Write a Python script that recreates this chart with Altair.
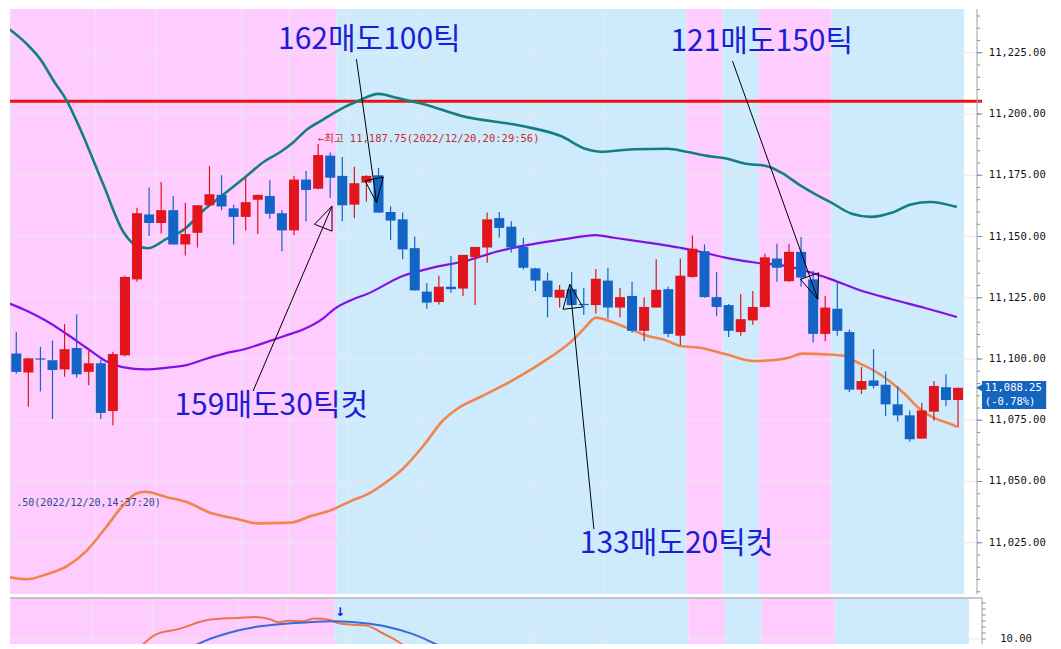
import altair as alt
import pandas as pd

# ---------------- data ----------------
candle_idx = list(range(-1, 79))
opens = [11109.75, 11102.25, 11094.5, 11100.25, 11099.5, 11095.75, 11104.5, 11094.75, 11098.25, 11078.75,
         11101.5, 11132.5, 11159.0, 11155.5, 11160.75, 11146.75, 11151.5, 11162.75, 11167.0, 11161.5,
         11158.0, 11165.0, 11166.5, 11159.5, 11152.5, 11173.25, 11169.5, 11183.0, 11174.75, 11163.0,
         11172.0, 11175.0, 11160.0, 11157.0, 11145.25, 11127.5, 11123.25, 11129.5, 11128.75, 11141.5,
         11145.5, 11157.5, 11154.0, 11145.75, 11137.0, 11132.0, 11125.0, 11128.5, 11122.5, 11122.0,
         11132.0, 11121.0, 11125.75, 11111.5, 11121.0, 11128.5, 11109.5, 11133.5, 11144.0, 11125.25,
         11122.0, 11111.0, 11115.75, 11121.25, 11141.0, 11131.75, 11143.75, 11132.5, 11110.25, 11120.5,
         11111.0, 11087.5, 11091.25, 11089.5, 11081.5, 11077.0, 11067.5, 11078.5, 11088.5, 11083.25]
highs = [11113.5, 11111.0, 11100.5, 11105.0, 11107.5, 11114.25, 11118.25, 11103.5, 11099.75, 11103.0,
         11134.0, 11161.75, 11170.0, 11172.25, 11166.5, 11163.75, 11162.75, 11178.75, 11175.0, 11163.0,
         11174.0, 11167.0, 11173.0, 11160.75, 11174.75, 11176.75, 11187.75, 11184.25, 11182.5, 11178.5,
         11175.0, 11178.0, 11162.25, 11159.75, 11150.0, 11131.0, 11134.0, 11142.0, 11142.5, 11145.75,
         11159.75, 11160.0, 11156.25, 11149.5, 11137.25, 11135.25, 11130.25, 11135.5, 11129.0, 11136.75,
         11137.25, 11129.0, 11131.5, 11125.25, 11140.75, 11129.5, 11141.0, 11150.5, 11146.75, 11135.5,
         11122.5, 11126.5, 11127.75, 11143.0, 11147.0, 11147.0, 11149.75, 11136.0, 11125.75, 11131.0,
         11112.0, 11096.75, 11104.0, 11095.0, 11089.0, 11079.0, 11082.0, 11091.0, 11093.75, 11088.25]
lows = [11099.25, 11094.0, 11080.5, 11086.75, 11075.5, 11092.75, 11092.5, 11089.25, 11075.5, 11073.0,
        11101.0, 11131.5, 11150.25, 11151.25, 11146.75, 11142.25, 11145.5, 11162.5, 11160.75, 11146.75,
        11152.5, 11151.0, 11157.25, 11144.0, 11150.5, 11156.25, 11169.25, 11165.75, 11156.25, 11157.5,
        11164.25, 11159.75, 11148.5, 11140.75, 11128.0, 11120.5, 11122.25, 11127.0, 11125.75, 11122.0,
        11139.25, 11149.5, 11143.5, 11136.5, 11127.75, 11117.0, 11121.0, 11122.0, 11118.0, 11118.5,
        11116.5, 11117.0, 11110.75, 11107.25, 11121.0, 11109.0, 11105.75, 11133.25, 11125.0, 11117.5,
        11109.0, 11109.5, 11114.0, 11121.0, 11131.5, 11131.5, 11129.5, 11106.75, 11107.25, 11109.5,
        11086.5, 11085.75, 11088.0, 11076.75, 11074.5, 11066.25, 11067.5, 11074.75, 11080.75, 11072.0]
closes = [11102.0, 11094.75, 11100.25, 11099.75, 11095.5, 11104.0, 11093.75, 11098.25, 11078.0, 11102.0,
          11133.5, 11159.5, 11155.5, 11160.75, 11146.75, 11151.0, 11162.75, 11167.25, 11162.25, 11158.0,
          11164.0, 11167.0, 11159.25, 11152.5, 11173.25, 11169.0, 11183.25, 11174.0, 11162.75, 11171.75,
          11174.75, 11159.75, 11156.5, 11144.75, 11128.0, 11123.0, 11129.5, 11128.5, 11142.5, 11145.75,
          11157.0, 11153.5, 11145.5, 11137.25, 11132.0, 11125.25, 11128.25, 11122.0, 11122.0, 11132.75,
          11121.0, 11125.25, 11111.5, 11121.25, 11128.25, 11110.25, 11134.0, 11145.0, 11125.25, 11121.25,
          11111.5, 11116.25, 11121.25, 11141.5, 11137.25, 11143.75, 11133.25, 11110.25, 11121.0, 11111.5,
          11087.5, 11091.0, 11089.0, 11081.5, 11077.0, 11067.25, 11079.0, 11089.0, 11083.25, 11088.25]

upper_i = [-1.0, 0.9, 2.0, 3.1, 4.2, 5.3, 7.2, 8.9, 10.0, 10.9, 12.4, 14.0, 15.6, 17.0, 18.9, 20.6, 21.9,
           23.0, 24.1, 25.2, 27.1, 28.3, 30.0, 31.6, 33.7, 36.9, 41.9, 45.1, 47.2, 48.4, 51.1, 53.9, 55.5,
           57.2, 58.8, 60.4, 62.1, 63.4, 64.8, 66.2, 67.5, 69.2, 70.8, 72.5, 74.1, 75.7, 77.9]
upper_v = [11236.2, 11228.4, 11222.3, 11213.5, 11205.3, 11193.8, 11171.3, 11151.6, 11146.1, 11145.2,
           11148.9, 11153.3, 11161.1, 11166.5, 11174.0, 11180.8, 11184.6, 11188.7, 11193.8, 11197.1,
           11202.6, 11205.3, 11208.2, 11206.5, 11204.1, 11199.2, 11195.1, 11191.0, 11185.7, 11184.6,
           11185.6, 11185.8, 11184.6, 11182.9, 11181.8, 11179.7, 11178.8, 11176.0, 11171.3, 11167.2,
           11163.8, 11159.3, 11158.0, 11159.7, 11163.1, 11164.1, 11162.0]

mid_i = [-1.0, 0.9, 2.5, 4.2, 5.8, 7.4, 8.8, 10.7, 12.4, 14.0, 15.6, 17.3, 18.9, 20.6, 22.2, 23.8, 25.5,
         26.3, 27.9, 29.0, 32.0, 34.5, 37.2, 40.0, 42.7, 45.4, 48.0, 49.5, 52.3, 53.3, 55.0, 56.1, 58.8,
         61.3, 63.7, 65.4, 67.5, 69.7, 72.5, 75.2, 77.9]
mid_v = [11123.5, 11119.6, 11115.5, 11110.1, 11104.6, 11099.2, 11096.7, 11095.8, 11096.4, 11097.4,
         11099.9, 11102.3, 11104.0, 11106.7, 11109.4, 11112.1, 11116.9, 11120.3, 11124.4, 11126.4,
         11133.9, 11137.3, 11140.0, 11144.1, 11146.8, 11148.9, 11150.6, 11149.5, 11147.5, 11146.8,
         11145.4, 11144.4, 11141.3, 11139.3, 11138.0, 11135.9, 11132.5, 11128.4, 11124.4, 11120.9, 11117.1]

low_i = [-1.0, 0.9, 2.5, 4.2, 5.8, 7.4, 8.8, 9.9, 10.7, 12.4, 14.0, 16.2, 18.4, 20.0, 22.7, 24.4, 26.0,
         27.7, 29.3, 30.4, 32.0, 33.7, 35.3, 36.5, 38.6, 41.0, 43.5, 46.0, 47.1, 48.0, 49.5, 50.9, 52.3,
         53.6, 55.0, 56.6, 58.8, 61.0, 62.6, 64.0, 65.1, 67.0, 68.6, 69.7, 71.1, 72.5, 73.6, 74.7, 76.0,
         77.1, 77.9]
low_v = [11011.3, 11010.1, 11012.1, 11015.5, 11021.6, 11031.1, 11040.0, 11045.0, 11045.8, 11043.7,
         11041.8, 11037.0, 11034.6, 11032.9, 11033.2, 11035.9, 11038.2, 11042.0, 11045.4, 11048.9,
         11055.1, 11064.5, 11074.7, 11079.6, 11084.9, 11091.0, 11098.4, 11107.3, 11112.8, 11116.9,
         11114.8, 11112.1, 11109.4, 11108.0, 11105.3, 11104.6, 11101.9, 11099.2, 11099.5, 11100.5,
         11102.2, 11101.9, 11101.2, 11098.5, 11095.1, 11090.3, 11085.6, 11080.1, 11076.0, 11074.0, 11072.4]

# lower indicator panel
ind_o_i = [10.2, 11.8, 13.7, 16.2, 18.4, 20.0, 21.1, 21.9, 22.7, 23.8, 24.9, 26.0, 26.8, 27.7, 29.0, 30.4, 31.8, 32.7]
ind_o_v = [5.7, 11.4, 13.3, 16.4, 17.0, 17.3, 16.7, 15.6, 16.1, 15.9, 16.8, 16.4, 15.3, 14.8, 14.6, 12.0, 8.9, 5.9]
ind_b_i = [14.1, 15.6, 17.8, 20.0, 22.2, 24.4, 26.6, 28.8, 30.7, 32.8, 34.5, 36.0]
ind_b_v = [5.7, 8.9, 12.0, 14.0, 15.0, 15.6, 15.9, 15.3, 14.2, 11.8, 8.9, 5.9]

# background session bands
band_start = [-1.5, 26.5, 55.5, 58.5, 61.5, 67.5]
band_end = [26.5, 55.5, 58.5, 61.5, 67.5, 78.5]
band_kind = ["pink", "blue", "pink", "blue", "pink", "blue"]

time_grid = [-0.35, 6.58, 11.61, 18.64, 22.6, 27.43, 33.56, 42.6, 48.64]
price_ticks = [11025, 11050, 11075, 11100, 11125, 11150, 11175, 11200, 11225]
price_tick_labels = ["11,025.00", "11,050.00", "11,075.00", "11,100.00", "11,125.00",
                     "11,150.00", "11,175.00", "11,200.00", "11,225.00"]
minor_ticks = list(range(11005, 11245, 5))
resistance = 11205.25

ind_ticks = [10, 12, 14, 16, 18, 20, 22]
ind_label_vals = [10]
ind_labels = ["10.00"]

# annotations (index, price)
notes_txt = ["162매도100틱", "121매도150틱", "159매도30틱컷", "133매도20틱컷"]
notes_i = [29.24, 61.74, 21.12, 54.69]
notes_p = [11230.2, 11229.4, 11080.8, 11024.5]

arrow_key = ["s1", "s1", "h1", "h1", "h1", "h1",
             "s2", "s2", "h2", "h2", "h2", "h2",
             "s3", "s3", "h3", "h3", "h3", "h3",
             "s4", "s4", "h4", "h4", "h4", "h4"]
arrow_ord = [0, 1, 0, 1, 2, 3] * 4
arrow_i = [28.17, 29.84, 28.89, 29.84, 30.39, 28.89,
           59.32, 66.39, 64.95, 66.39, 66.45, 64.95,
           19.61, 26.15, 24.70, 26.15, 26.15, 24.70,
           47.84, 45.84, 45.28, 45.84, 46.92, 45.28]
arrow_p = [11222.4, 11163.8, 11172.7, 11163.8, 11174.3, 11172.7,
           11221.6, 11124.4, 11132.5, 11124.4, 11135.2, 11132.5,
           11086.9, 11162.4, 11155.0, 11162.4, 11152.2, 11155.0,
           11030.6, 11130.5, 11120.3, 11130.5, 11121.2, 11120.3]

high_label = "←최고 11,187.75(2022/12/20,20:29:56)"
low_label = ".50(2022/12/20,14:37:20)"
last_price = 11088.25
last_lines = ["11,088.25", "(-0.78%)"]

# ---------------- styling ----------------
RED = "#e2141c"
BLUE = "#1464c6"
PINK = "#ffccff"
LBLUE = "#cdebfd"
GRID = "#e9e9e9"
AXIS = "#a0a0a0"

X_MAX = 79.57
xs = alt.Scale(domain=[-0.107, X_MAX], nice=False, zero=False)
ys = alt.Scale(domain=[11004.08, 11242.86], nice=False, zero=False)
ys2 = alt.Scale(domain=[8.33, 23.67], nice=False, zero=False)

W, H, H2 = 972, 585, 46

df = pd.DataFrame(dict(i=candle_idx, o=opens, h=highs, l=lows, c=closes))
dir_color = alt.condition("datum.c > datum.o", alt.value(RED), alt.value(BLUE))

bands_df = pd.DataFrame(dict(s=band_start, e=band_end, k=band_kind))
band_color = alt.condition("datum.k == 'pink'", alt.value(PINK), alt.value(LBLUE))


def X(f):
    return alt.X(f, type="quantitative", scale=xs, axis=None)


def Y(f):
    return alt.Y(f, type="quantitative", scale=ys, axis=None)


def Y2(f):
    return alt.Y(f, type="quantitative", scale=ys2, axis=None)


bg = alt.Chart(bands_df).mark_rect(clip=True).encode(x=X("s"), x2="e", color=band_color)
vgrid = alt.Chart(pd.DataFrame({"g": time_grid})).mark_rule(color=GRID, strokeWidth=1, clip=True).encode(x=X("g"))
hgrid = alt.Chart(pd.DataFrame({"p": price_ticks})).mark_rule(color=GRID, strokeWidth=1).encode(y=Y("p"))

# right price axis: domain line, ticks and labels
axis_line = alt.Chart(pd.DataFrame({"x": [X_MAX]})).mark_rule(color=AXIS, strokeWidth=1).encode(x=X("x"))
minor_df = pd.DataFrame({"p": minor_ticks, "a": [X_MAX] * len(minor_ticks), "b": [X_MAX + 0.25] * len(minor_ticks)})
minor = alt.Chart(minor_df).mark_rule(color="#8c8c8c", strokeWidth=1).encode(x=X("a"), x2="b", y=Y("p"))
major_df = pd.DataFrame({"p": price_ticks, "a": [X_MAX] * len(price_ticks), "b": [X_MAX + 0.45] * len(price_ticks)})
major = alt.Chart(major_df).mark_rule(color="#8c8c8c", strokeWidth=1).encode(x=X("a"), x2="b", y=Y("p"))
lab_df = pd.DataFrame({"p": price_ticks, "t": price_tick_labels, "x": [X_MAX + 0.98] * len(price_ticks)})
labels = alt.Chart(lab_df).mark_text(
    font="DejaVu Sans Mono", fontSize=10.5, color="#111111", align="left", baseline="middle"
).encode(x=X("x"), y=Y("p"), text="t:N")

res_line = alt.Chart(pd.DataFrame({"p": [resistance]})).mark_rule(color="#ee1111", strokeWidth=3).encode(y=Y("p"))


def band_line(ii, vv, color, w):
    return alt.Chart(pd.DataFrame({"i": ii, "v": vv})).mark_line(
        color=color, strokeWidth=w, interpolate="monotone", clip=True
    ).encode(x=X("i"), y=Y("v"))


upper = band_line(upper_i, upper_v, "#157f7f", 2.6)
middle = band_line(mid_i, mid_v, "#8410e6", 2.2)
lower = band_line(low_i, low_v, "#f2844c", 2.6)

wicks = alt.Chart(df).mark_rule(strokeWidth=1.2, clip=True).encode(x=X("i"), y=Y("l"), y2="h", color=dir_color)
bodies = alt.Chart(df).mark_bar(size=10, clip=True).encode(x=X("i"), y=Y("o"), y2="c", color=dir_color)

arrows_df = pd.DataFrame(dict(key=arrow_key, ord=arrow_ord, i=arrow_i, p=arrow_p))
arrows = alt.Chart(arrows_df).mark_line(color="black", strokeWidth=1, clip=True).encode(
    x=X("i"), y=Y("p"), detail="key:N", order="ord:Q"
)

notes_df = pd.DataFrame(dict(t=notes_txt, i=notes_i, p=notes_p))
notes = alt.Chart(notes_df).mark_text(
    font="Noto Sans CJK KR", fontSize=30, color="#1d1dd2", align="center", baseline="middle"
).encode(x=X("i"), y=Y("p"), text="t:N")

hl = alt.Chart(pd.DataFrame({"t": [high_label], "i": [24.98], "p": [11189.8]})).mark_text(
    font="DejaVu Sans Mono, Noto Sans CJK KR", fontSize=10.5, color="#cc2a2a", align="left", baseline="middle"
).encode(x=X("i"), y=Y("p"), text="t:N")

ll = alt.Chart(pd.DataFrame({"t": [low_label], "i": [0.0], "p": [11041.2]})).mark_text(
    font="DejaVu Sans Mono", fontSize=10, color="#2c4a8c", align="left", baseline="middle"
).encode(x=X("i"), y=Y("p"), text="t:N")

box = alt.Chart(pd.DataFrame({"i1": [79.98], "i2": [85.3], "p1": [11091.0], "p2": [11079.6]})).mark_rect(
    color="#1565c0"
).encode(x=X("i1"), x2="i2", y=Y("p1"), y2="p2")
box_tri = alt.Chart(pd.DataFrame({"i": [79.75], "p": [last_price]})).mark_point(
    shape="triangle-left", filled=True, size=45, color="#1565c0", opacity=1
).encode(x=X("i"), y=Y("p"))
box_txt = alt.Chart(pd.DataFrame({"t": last_lines, "i": [80.22, 80.22], "p": [11088.2, 11082.4]})).mark_text(
    font="DejaVu Sans Mono", fontSize=10.5, color="white", align="left", baseline="middle"
).encode(x=X("i"), y=Y("p"), text="t:N")

main = alt.layer(
    bg, vgrid, hgrid, res_line, upper, lower, middle, wicks, bodies, arrows, notes, hl, ll,
    axis_line, minor, major, labels, box, box_tri, box_txt
).properties(width=W, height=H)

# ---------------- lower panel ----------------
bg2 = alt.Chart(bands_df).mark_rect(clip=True).encode(x=X("s"), x2="e", color=band_color)
vgrid2 = alt.Chart(pd.DataFrame({"g": time_grid})).mark_rule(color=GRID, strokeWidth=1, clip=True).encode(x=X("g"))
hgrid2 = alt.Chart(pd.DataFrame({"v": ind_label_vals})).mark_rule(color=GRID, strokeWidth=1).encode(y=Y2("v"))
sep = alt.Chart(pd.DataFrame({"v": [23.67]})).mark_rule(color="#b4b4b4", strokeWidth=1.5).encode(y=Y2("v"))
axis_line2 = alt.Chart(pd.DataFrame({"x": [X_MAX]})).mark_rule(color=AXIS, strokeWidth=1).encode(x=X("x"))
ticks2_df = pd.DataFrame({"v": ind_ticks, "a": [X_MAX] * len(ind_ticks), "b": [X_MAX + 0.3] * len(ind_ticks)})
ticks2 = alt.Chart(ticks2_df).mark_rule(color="#8c8c8c", strokeWidth=1).encode(x=X("a"), x2="b", y=Y2("v"))
lab2 = alt.Chart(pd.DataFrame({"v": ind_label_vals, "t": ind_labels, "x": [X_MAX + 1.5]})).mark_text(
    font="DejaVu Sans Mono", fontSize=10.5, color="#111111", align="left", baseline="middle"
).encode(x=X("x"), y=Y2("v"), text="t:N")
ind_o = alt.Chart(pd.DataFrame({"i": ind_o_i, "v": ind_o_v})).mark_line(
    color="#ef7446", strokeWidth=2, interpolate="monotone", clip=True
).encode(x=X("i"), y=Y2("v"))
ind_b = alt.Chart(pd.DataFrame({"i": ind_b_i, "v": ind_b_v})).mark_line(
    color="#3a6ad8", strokeWidth=2, interpolate="monotone", clip=True
).encode(x=X("i"), y=Y2("v"))
sig = alt.Chart(pd.DataFrame({"t": ["↓"], "i": [26.94], "v": [18.9]})).mark_text(
    font="DejaVu Sans", fontSize=12, fontWeight="bold", color="#0a14e6", baseline="middle"
).encode(x=X("i"), y=Y2("v"), text="t:N")

lower_panel = alt.layer(
    bg2, vgrid2, hgrid2, sep, ind_o, ind_b, sig, axis_line2, ticks2, lab2
).properties(width=W, height=H2)

chart = alt.vconcat(main, lower_panel, spacing=2).properties(padding=0).configure_view(stroke=None)

chart.save("out.html", embed_options={"renderer": "svg", "actions": False})
